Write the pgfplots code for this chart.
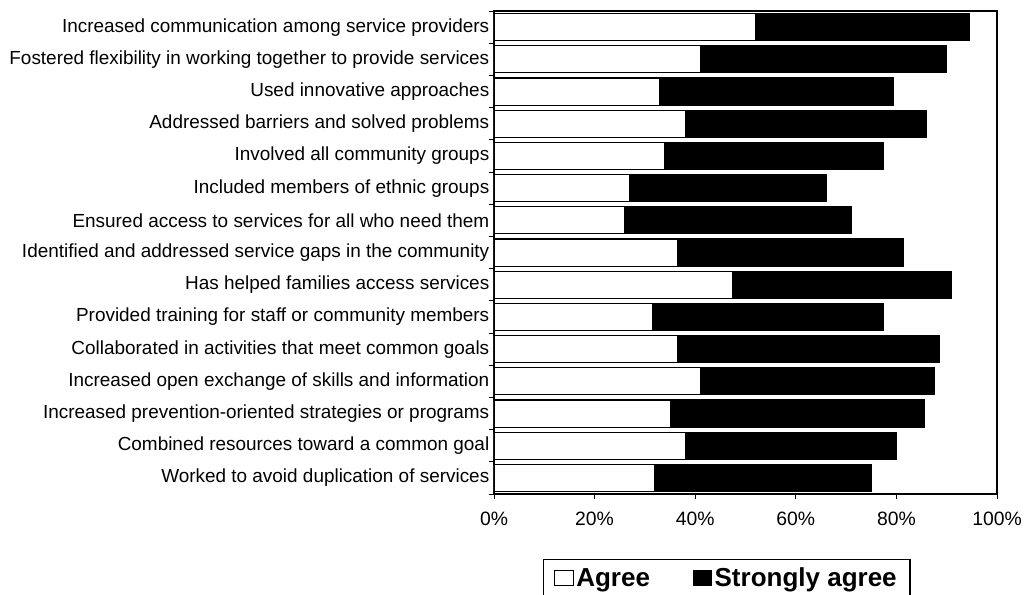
\documentclass[border=0pt]{standalone}
\usepackage{pgfplots}
\usepackage{pgfplotstable}
\pgfplotsset{compat=1.18}
\usepackage{fontspec}
\setmainfont{Liberation Sans}
\pgfplotstableread{
y agree strong
0 52 42.5
1 41 49
2 33 46.5
3 38 48
4 34 43.5
5 27 39
6 26 45
7 36.5 45
8 47.5 43.5
9 31.5 46
10 36.5 52
11 41 46.5
12 35 50.5
13 38 42
14 32 43
}\datatable
\begin{document}
\begin{tikzpicture}
\useasboundingbox (-370.5pt,-75pt) rectangle (397.5pt,370.5pt);
\begin{axis}[
  at={(0,0)}, anchor=south west,
  scale only axis, width=377.25pt, height=362.25pt,
  xbar stacked, bar width=0.84,
  xmin=0, xmax=100, ymin=-0.5, ymax=14.5, y dir=reverse,
  axis line style={line width=0.8pt},
  tick align=outside, major tick length=4pt,
  xtick pos=bottom, ytick pos=left,
  tick style={black, line width=0.6pt},
  xtick={0,20,...,100},
  xticklabels={0\%,20\%,40\%,60\%,80\%,100\%},
  xticklabel style={font=\fontsize{14.5}{17}\selectfont, yshift=-6pt},
  ytick={-0.5,0.5,...,14.5},
  yticklabels={},
  extra y ticks={0,1,...,14},
  extra y tick labels={
    Increased communication among service providers,
    Fostered flexibility in working together to provide services,
    Used innovative approaches,
    Addressed barriers and solved problems,
    Involved all community groups,
    Included members of ethnic groups,
    Ensured access to services for all who need them,
    Identified and addressed service gaps in the community,
    Has helped families access services,
    Provided training for staff or community members,
    Collaborated in activities that meet common goals,
    Increased open exchange of skills and information,
    Increased prevention-oriented strategies or programs,
    Combined resources toward a common goal,
    Worked to avoid duplication of services},
  extra y tick style={major tick length=0pt},
  yticklabel style={font=\fontsize{14.2}{16}\selectfont},
  legend style={at={(0.463,-0.1346)}, anchor=north, legend columns=2,
    draw=black, line width=1pt, inner xsep=8pt, inner ysep=4pt,
    font=\fontsize{19.5}{23}\bfseries\selectfont,
    /tikz/every even column/.append style={column sep=30pt}},
  legend image code/.code={\draw[#1, line width=0.8pt] (0cm,-0.2cm) rectangle (0.48cm,0.2cm);},
]
\addplot[fill=white, draw=black, line width=0.8pt] table[x=agree, y=y] {\datatable};
\addplot[fill=black, draw=black, line width=0.8pt] table[x=strong, y=y] {\datatable};
\legend{Agree, Strongly agree}
\end{axis}
\end{tikzpicture}
\end{document}
